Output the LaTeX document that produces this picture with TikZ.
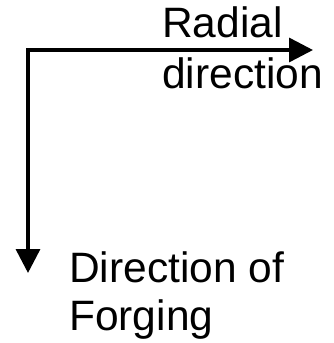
\documentclass[tikz,border=0pt]{standalone}
\usepackage{fontspec}
\setmainfont{Liberation Sans}
\usetikzlibrary{arrows.meta}
\begin{document}
\begin{tikzpicture}[x=1pt,y=-1pt,
  axis/.style={line width=3.5pt,{Triangle[length=24pt,width=24pt]}-{Triangle[length=24pt,width=24pt]}},
  lbl/.style={anchor=base west,inner sep=0pt,font=\fontsize{42.5}{48}\selectfont}]
\useasboundingbox (0,0) rectangle (333,343);
\coordinate (corner) at (28,50);
\coordinate (htip) at (313,50);
\coordinate (vtip) at (28,273);
\draw[axis] (vtip) -- (corner) -- (htip);
\node[lbl] (radial) at (162,37) {Radial};
\node[lbl] (direction) at (162,88) {direction};
\node[lbl] (dirof) at (69,282) {Direction of};
\node[lbl] (forging) at (69,330) {Forging};
\end{tikzpicture}
\end{document}
